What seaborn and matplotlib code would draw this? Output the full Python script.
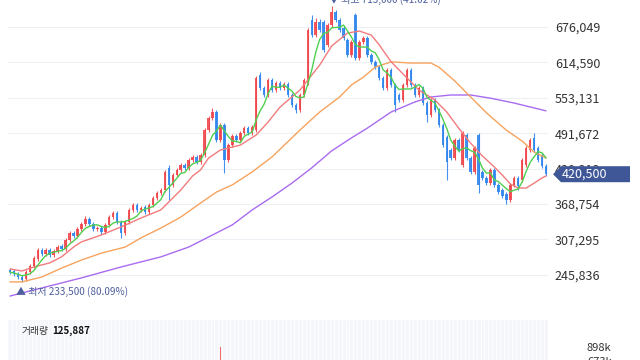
import numpy as np
import pandas as pd
import matplotlib
matplotlib.use('Agg')
import matplotlib.pyplot as plt
from matplotlib.patches import Polygon
from matplotlib.transforms import IdentityTransform
import seaborn as sns

# daily candles (thousand won)
open_k = [254, 252.5, 247.5, 242, 238.5, 250.5, 261, 273.5, 289, 282,
          289, 280, 287, 296, 290.5, 306.5, 318.5, 313, 325.5, 334,
          342.5, 334, 325.5, 327, 320, 332.5, 346, 353, 337.5, 318.5,
          337.5, 358.5, 367, 358.5, 363.5, 355, 367, 379, 388, 393,
          431.5, 402, 419, 428, 436.5, 431.5, 445, 450.5, 441.5, 454,
          497, 518, 528.5, 480, 506, 445, 471, 487, 480, 492,
          500.5, 492, 497, 592.5, 570, 558, 584, 566.5, 579, 570,
          577, 558, 540.5, 532, 558, 579, 688, 662, 684.5, 684.5,
          645, 679.5, 702, 688, 674.5, 653.5, 627.5, 697, 622, 650,
          657, 627.5, 615.5, 606.5, 587.5, 570, 601.5, 575.5, 558, 549.5,
          575.5, 601.5, 575.5, 558, 570, 544, 523.5, 549.5, 532, 506,
          485, 462.5, 448.5, 480, 436.5, 488.5, 448.5, 424.5, 488.5, 424.5,
          414, 405, 428, 402, 393, 386, 375.5, 402, 414, 410.5,
          436.5, 462.5, 483.5, 466, 454, 434.5]
close_k = [250.5, 247.5, 242, 237, 250.5, 261, 275, 289, 282, 289,
           280, 287, 294, 290.5, 306.5, 318.5, 313, 325.5, 334, 342.5,
           334, 325.5, 327, 320, 332.5, 346, 353, 337.5, 318.5, 337.5,
           358.5, 367, 358.5, 362, 355, 367, 379, 388, 393, 424.5,
           402, 419, 428, 436.5, 431.5, 445, 450.5, 441.5, 454, 497,
           518, 528.5, 480, 506, 445, 471, 487, 480, 492, 500.5,
           492, 502.5, 587.5, 570, 558, 584, 566.5, 579, 570, 577,
           558, 540.5, 532, 558, 584, 671, 662, 684.5, 671, 636,
           679.5, 702, 688, 671, 657, 627.5, 650, 622, 650, 657,
           627.5, 615.5, 606.5, 587.5, 570, 601.5, 575.5, 540.5, 549.5, 575.5,
           601.5, 575.5, 558, 570, 544, 523.5, 549.5, 532, 506, 471,
           441.5, 448.5, 480, 462.5, 492, 448.5, 424.5, 466, 402, 414,
           405, 428, 402, 389.5, 382.5, 375.5, 402, 414, 400, 445,
           466, 480, 462.5, 445, 434.5, 420.5]
high_k = [257.5, 256, 250.5, 245.5, 254, 264.5, 278.5, 292.5, 292.5, 292.5,
          292.5, 290.5, 297.5, 299.5, 310, 322, 322, 329, 337.5, 348,
          346, 337.5, 330.5, 330.5, 336, 349.5, 356.5, 356.5, 341, 341,
          362, 370.5, 370.5, 365.5, 367, 370.5, 382.5, 391.5, 396.5, 428,
          436.5, 422.5, 431.5, 440, 440, 448.5, 454, 454, 457.5, 500.5,
          521.5, 535.5, 532, 509.5, 509.5, 474.5, 490.5, 490.5, 495.5, 504,
          504, 506, 591, 598, 573.5, 587.5, 587.5, 582.5, 582.5, 580.5,
          580.5, 561.5, 544, 561.5, 587.5, 674.5, 697, 691.5, 690, 688,
          683, 713, 705.5, 691.5, 678, 657, 653.5, 700.5, 653.5, 660.5,
          660.5, 631, 619, 610, 591, 605, 605, 579, 561.5, 579,
          605, 605, 579, 573.5, 573.5, 547.5, 553, 553, 535.5, 509.5,
          488.5, 466, 483.5, 483.5, 495.5, 492, 452, 469.5, 492, 428,
          417.5, 431.5, 431.5, 405, 396.5, 389.5, 405, 417.5, 417.5, 448.5,
          469.5, 483.5, 492, 469.5, 457.5, 438]
low_k = [247.5, 244, 238.5, 233.5, 235, 247.5, 257.5, 270, 278.5, 278.5,
         277, 277, 283.5, 287, 287, 303, 310, 310, 322, 330.5,
         330.5, 322, 322, 316.5, 316.5, 329, 342.5, 334, 310, 315,
         334, 355, 355, 355, 351.5, 351.5, 363.5, 375.5, 384.5, 389.5,
         375.5, 398.5, 415.5, 424.5, 428, 428, 441.5, 438, 438, 450.5,
         494, 514.5, 476.5, 476.5, 422.5, 441.5, 467.5, 476.5, 476.5, 488.5,
         488.5, 488.5, 494, 566.5, 554.5, 554.5, 563, 563, 566.5, 566.5,
         554.5, 537, 527, 528.5, 554.5, 575.5, 658.5, 658.5, 667.5, 632.5,
         641.5, 676, 684.5, 667.5, 653.5, 624, 624, 619, 619, 646.5,
         624, 612, 603, 584, 566.5, 566.5, 572, 528.5, 546, 546,
         572, 572, 554.5, 554.5, 540.5, 511, 520, 528.5, 502.5, 467.5,
         410.5, 445, 445, 459, 433, 445, 421, 421, 388, 410.5,
         402, 402, 398.5, 386, 379, 369, 372, 398.5, 393, 407,
         433, 459, 459, 441.5, 431.5, 417.5]
# volume (thousand shares)
vol_k = [180, 210, 240, 260, 300, 280, 320, 350, 220, 200,
         190, 230, 250, 210, 330, 360, 240, 290, 310, 300,
         260, 240, 200, 230, 280, 340, 300, 270, 380, 310,
         350, 300, 250, 220, 240, 280, 330, 300, 290, 520,
         480, 360, 310, 290, 260, 300, 270, 250, 280, 590,
         560, 520, 470, 905, 610, 430, 380, 300, 280, 290,
         270, 260, 640, 520, 420, 380, 330, 300, 280, 260,
         300, 330, 340, 360, 410, 620, 560, 480, 420, 470,
         400, 520, 450, 380, 350, 400, 330, 560, 400, 320,
         300, 290, 310, 350, 380, 360, 330, 410, 320, 300,
         340, 310, 290, 270, 300, 360, 320, 280, 330, 420,
         560, 380, 400, 330, 520, 390, 350, 410, 540, 380,
         320, 300, 290, 270, 260, 300, 310, 260, 240, 330,
         390, 420, 380, 300, 220, 125.887]

# moving averages (candle index, thousand won)
ma20_idx = [0, 3, 6, 10, 13, 16, 18, 23, 28, 33, 38, 43, 46, 48, 50, 53, 58, 62, 65, 68,
            73, 78, 81, 85, 88, 91, 93, 96, 100, 103, 107, 110, 113, 116, 119, 122, 124,
            126, 128, 130, 132, 134, 135]
ma20_k = [256, 252.5, 259.5, 266.5, 277, 294, 303, 315, 329, 344.5, 358.5, 393, 417.5, 428,
          448.5, 462.5, 471, 488.5, 511, 537, 566.5, 610, 643, 665.5, 669, 662, 645, 615.5,
          587.5, 566.5, 549.5, 528.5, 500.5, 474.5, 452, 433, 419, 403.5, 396.5, 396.5,
          405, 414, 417.5]
ma60_idx = [0, 3, 8, 13, 18, 23, 29, 33, 38, 43, 48, 52, 56, 61, 66, 73, 78, 83, 86, 89,
            92, 96, 101, 106, 108, 112, 115, 120, 125, 129, 132, 135]
ma60_k = [233.5, 233.5, 242, 257.5, 271.5, 283.5, 294, 310, 327, 346, 370.5, 389.5, 402,
          424.5, 450.5, 497, 528.5, 554.5, 575.5, 589, 606.5, 615.5, 613.5, 613.5, 606.5,
          582.5, 561.5, 527, 497, 478, 459, 448.5]
ma120_idx = [0, 8, 18, 28, 38, 45, 51, 56, 61, 66, 71, 76, 81, 86, 90, 96, 102, 106, 111,
             116, 121, 127, 135]
ma120_k = [209, 223, 240.5, 259.5, 277, 294, 315, 332.5, 358.5, 381, 405, 431.5, 461,
           483.5, 500.5, 528.5, 546, 554.5, 558, 558, 552.5, 544, 530.5]

price_ticks = [245836, 307295, 368754, 430213, 491672, 553131, 614590, 676049]
vol_ticks = [224000, 449000, 673000, 898000]
vol_labels = ['224k', '449k', '673k', '898k']

df = pd.DataFrame({'open': np.array(open_k) * 1000, 'close': np.array(close_k) * 1000,
                   'high': np.array(high_k) * 1000, 'low': np.array(low_k) * 1000,
                   'vol': np.array(vol_k) * 1000})
df['ma5'] = df['close'].rolling(5, min_periods=1).mean()

RED = '#f0464b'
BLUE = '#2f86ee'

sns.set_theme(style='white')
plt.rcParams['font.family'] = ['Noto Sans CJK KR', 'DejaVu Sans']

fig = plt.figure(figsize=(6.4, 3.6), dpi=100)
ax = fig.add_axes([8 / 640, 60 / 360, 540 / 640, 300 / 360])
axv = fig.add_axes([8 / 640, -43 / 360, 540 / 640, 83 / 360])

up = df['close'] >= df['open']
cols = np.where(up, RED, BLUE)
ax.vlines(df.index, df['low'], df['high'], colors=cols, lw=0.8, alpha=0.9, zorder=2)
ax.bar(df.index, (df['close'] - df['open']).abs(), bottom=np.minimum(df['open'], df['close']),
       width=0.62, color=cols, lw=0, alpha=0.9, zorder=2)

sns.lineplot(x=ma120_idx, y=np.array(ma120_k) * 1000, ax=ax, color='#a96cf0', lw=1, zorder=3)
sns.lineplot(x=ma60_idx, y=np.array(ma60_k) * 1000, ax=ax, color='#f6a35e', lw=1, zorder=3)
sns.lineplot(x=ma20_idx, y=np.array(ma20_k) * 1000, ax=ax, color='#f27b7d', lw=1, zorder=3)
sns.lineplot(x=df.index, y=df['ma5'], ax=ax, color='#4fcf4f', lw=1, zorder=3)

ax.set_xlim(-0.5, len(df) - 0.5)
ax.set_ylim(202121, 722921)
ax.set_yticks(price_ticks)
ax.set_yticklabels([f'{t:,}' for t in price_ticks])
ax.yaxis.tick_right()
ax.tick_params(axis='y', length=0, pad=5, labelsize=9, labelcolor='#333333')
ax.set_xticks([])
ax.grid(axis='y', color='#edf0f4', lw=0.8)
ax.set_axisbelow(True)
ax.set_xlabel('')
ax.set_ylabel('')
for s in ax.spines.values():
    s.set_visible(False)

# high / low markers
last = df['close'].iloc[-1]
imax = df['high'].idxmax()
imin = df['low'].idxmin()
hi = df['high'].max()
lo = df['low'].min()
ax.annotate(f'▼ 최고 {hi:,.0f} ({(hi - last) / hi * 100:.2f}%)', xy=(imax, hi),
            xytext=(-3, 6), textcoords='offset pixels', ha='left', va='center',
            fontsize=7.2, color='#4f5f9e', annotation_clip=False)
ax.annotate(f'▲ 최저 {lo:,.0f} ({(last - lo) / lo * 100:.2f}%)', xy=(imin, lo),
            xytext=(-6, -10), textcoords='offset pixels', ha='left', va='center',
            fontsize=7.2, color='#4f5f9e', annotation_clip=False)

# last price badge
px, py = ax.transData.transform((len(df) - 1, last))
pts = [(553, py), (561, py + 8), (630, py + 8), (630, py - 8), (561, py - 8)]
fig.add_artist(Polygon(pts, closed=True, transform=IdentityTransform(),
                       fc='#3f5797', ec='none', zorder=5))
fig.text(584 / 640, py / 360, f'{last:,.0f}', ha='center', va='center',
         fontsize=9, color='white', zorder=6)

# volume panel
axv.set_facecolor('#f4f6fb')
axv.vlines(np.arange(len(df)) + 0.5, 0, 1331000, colors='white', lw=0.6, zorder=1)
vcols = np.where(up, '#f06a6e', '#5a9ff0')
axv.bar(df.index, df['vol'], width=0.35, color=vcols, lw=0, zorder=2)
axv.set_xlim(-0.5, len(df) - 0.5)
axv.set_ylim(0, 1331000)
axv.set_yticks(vol_ticks)
axv.set_yticklabels(vol_labels)
axv.yaxis.tick_right()
axv.tick_params(axis='y', length=0, pad=28, labelsize=8, labelcolor='#333333')
axv.set_xticks([])
for s in axv.spines.values():
    s.set_visible(False)

t1 = fig.text(22 / 640, 1 - 331 / 360, '거래량', ha='left', va='center', fontsize=7,
              color='#333333')
bb = t1.get_window_extent(renderer=fig.canvas.get_renderer())
fig.text((bb.x1 + 3) / 640, 1 - 331 / 360, f'{df["vol"].iloc[-1]:,.0f}', ha='left',
         va='center', fontsize=7, fontweight='bold', color='#111111')

fig.savefig('out.png', dpi=100)
